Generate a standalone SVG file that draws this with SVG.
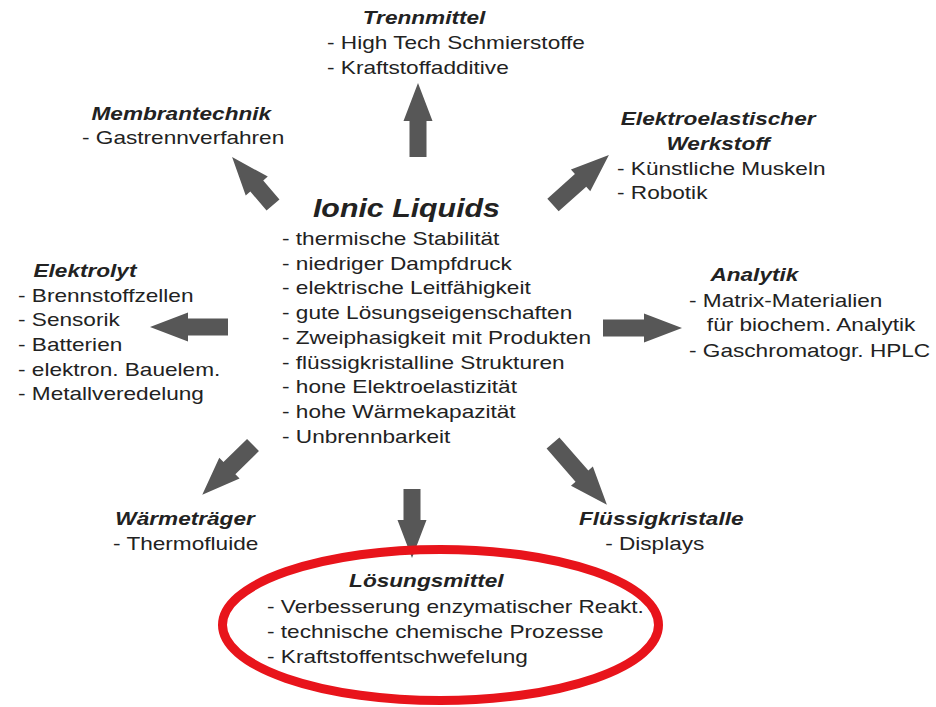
<svg xmlns="http://www.w3.org/2000/svg" width="936" height="707" viewBox="0 0 936 707">
<style>
text{font-family:"Liberation Sans",Arial,sans-serif;font-size:19px;fill:#222222}
.t{font-weight:bold;font-style:italic}
.big{font-size:25.5px}
.arr{fill:#575757}
</style>
<rect width="936" height="707" fill="#ffffff"/>
<g id="connectors">
<path class="arr" transform="translate(418,157) rotate(-90)" d="M0,-8.5 H36 V-14.5 L74,0 L36,14.5 V8.5 H0 Z"/>
<path class="arr" transform="translate(553,205) rotate(-41.8)" d="M0,-8.5 H37 V-14.5 L75,0 L37,14.5 V8.5 H0 Z"/>
<path class="arr" transform="translate(603,328)" d="M0,-8.5 H41 V-14.5 L79,0 L41,14.5 V8.5 H0 Z"/>
<path class="arr" transform="translate(553,443) rotate(48.9)" d="M0,-8.5 H44 V-14.5 L82,0 L44,14.5 V8.5 H0 Z"/>
<path class="arr" transform="translate(412,489) rotate(90)" d="M0,-8.5 H31 V-14.5 L69,0 L31,14.5 V8.5 H0 Z"/>
<path class="arr" transform="translate(253,445) rotate(135.6)" d="M0,-8.5 H33 V-14.5 L71,0 L33,14.5 V8.5 H0 Z"/>
<path class="arr" transform="translate(228,327) rotate(180)" d="M0,-8.5 H40 V-14.5 L78,0 L40,14.5 V8.5 H0 Z"/>
<path class="arr" transform="translate(273,205) rotate(-130.5)" d="M0,-8.5 H25 V-14.5 L63,0 L25,14.5 V8.5 H0 Z"/>
</g>
<g id="ionic-liquids" transform="translate(282,0) scale(1.19,1)">
<text class="t big" x="26" y="217">Ionic Liquids</text>
<text x="0" y="245">- thermische Stabilität</text>
<text x="0" y="270">- niedriger Dampfdruck</text>
<text x="0" y="294">- elektrische Leitfähigkeit</text>
<text x="0" y="319">- gute Lösungseigenschaften</text>
<text x="0" y="344">- Zweiphasigkeit mit Produkten</text>
<text x="0" y="369">- flüssigkristalline Strukturen</text>
<text x="0" y="393">- hone Elektroelastizität</text>
<text x="0" y="418">- hohe Wärmekapazität</text>
<text x="0" y="443">- Unbrennbarkeit</text>
</g>
<g id="trennmittel" transform="translate(327,0) scale(1.19,1)">
<text class="t" x="30" y="24">Trennmittel</text>
<text x="0" y="49">- High Tech Schmierstoffe</text>
<text x="0" y="74">- Kraftstoffadditive</text>
</g>
<g id="membrantechnik" transform="translate(82,0) scale(1.19,1)">
<text class="t" x="8" y="120">Membrantechnik</text>
<text x="0" y="144">- Gastrennverfahren</text>
</g>
<g id="elektroelastischer-werkstoff" transform="translate(617,0) scale(1.19,1)">
<text class="t" x="85" y="125" text-anchor="middle">Elektroelastischer</text>
<text class="t" x="85" y="150" text-anchor="middle">Werkstoff</text>
<text x="0" y="175">- Künstliche Muskeln</text>
<text x="0" y="199">- Robotik</text>
</g>
<g id="elektrolyt" transform="translate(18,0) scale(1.19,1)">
<text class="t" x="13" y="277">Elektrolyt</text>
<text x="0" y="302">- Brennstoffzellen</text>
<text x="0" y="326">- Sensorik</text>
<text x="0" y="351">- Batterien</text>
<text x="0" y="376">- elektron. Bauelem.</text>
<text x="0" y="400">- Metallveredelung</text>
</g>
<g id="analytik" transform="translate(689,0) scale(1.19,1)">
<text class="t" x="18" y="281">Analytik</text>
<text x="0" y="307">- Matrix-Materialien</text>
<text x="15" y="331">für biochem. Analytik</text>
<text x="0" y="357">- Gaschromatogr. HPLC</text>
</g>
<g id="waermetraeger" transform="translate(113,0) scale(1.19,1)">
<text class="t" x="2" y="525">Wärmeträger</text>
<text x="0" y="550">- Thermofluide</text>
</g>
<g id="fluessigkristalle" transform="translate(579,0) scale(1.19,1)">
<text class="t" x="0" y="525">Flüssigkristalle</text>
<text x="22" y="550">- Displays</text>
</g>
<g id="loesungsmittel">
<ellipse cx="440.5" cy="625" rx="218" ry="75.5" fill="none" stroke="#e8141b" stroke-width="9"/>
<g transform="translate(267,0) scale(1.19,1)">
<text class="t" x="69" y="587">Lösungsmittel</text>
<text x="0" y="613">- Verbesserung enzymatischer Reakt.</text>
<text x="0" y="638">- technische chemische Prozesse</text>
<text x="0" y="663">- Kraftstoffentschwefelung</text>
</g>
</g>
</svg>
